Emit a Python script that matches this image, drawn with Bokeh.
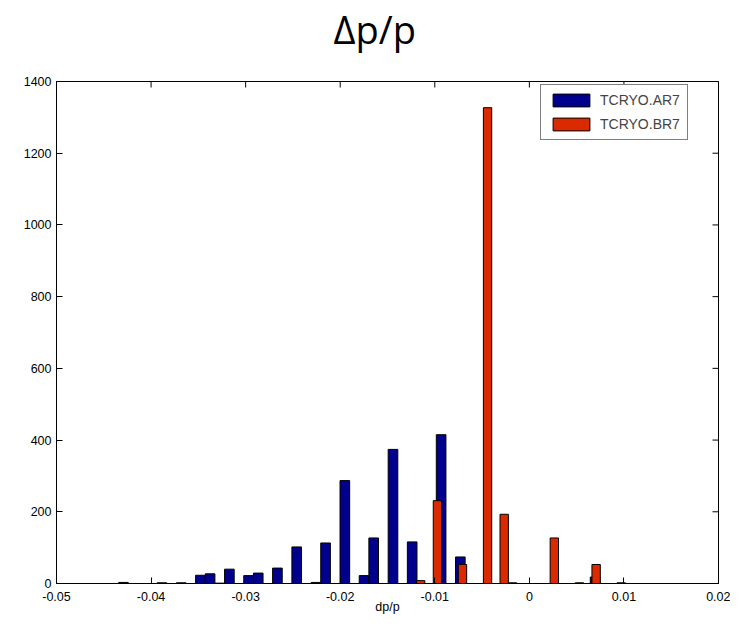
from bokeh.plotting import figure
from bokeh.models import (ColumnDataSource, FixedTicker, Range1d,
                          Legend, LegendItem, Title)
from bokeh.embed import file_html
from bokeh.resources import INLINE

# ---- data ----
ar7_centers = [-0.04292, -0.03885, -0.03681, -0.03478, -0.03376, -0.03274,
               -0.03172, -0.02969, -0.02867, -0.02664, -0.02460, -0.02256,
               -0.02155, -0.01951, -0.01748, -0.01646, -0.01442, -0.01239,
               -0.00933, -0.00730, 0.00695]
ar7_counts = [3, 2, 2, 23, 27, 1, 40, 22, 29, 43, 102, 3, 113, 287, 22, 127,
              374, 116, 415, 74, 18]

br7_centers = [-0.01149, -0.00972, -0.00707, -0.00442, -0.00266, -0.00177,
               0.00264, 0.00529, 0.00706, 0.00971]
br7_counts = [8, 231, 53, 1327, 193, 2, 127, 2, 53, 2]

x_ticks = [-0.05, -0.04, -0.03, -0.02, -0.01, 0.0, 0.01, 0.02]
x_tick_labels = ["-0.05", "-0.04", "-0.03", "-0.02", "-0.01", "0", "0.01", "0.02"]
y_ticks = [0, 200, 400, 600, 800, 1000, 1200, 1400]

series_names = ["TCRYO.AR7", "TCRYO.BR7"]
title_text = "\u0394p/p"
x_label = "dp/p"

X_MIN, X_MAX = x_ticks[0], x_ticks[-1]
Y_MIN, Y_MAX = y_ticks[0], y_ticks[-1]

AR7_WIDTH = 0.0010178
BR7_WIDTH = 0.000883
BLUE = "#00008C"
RED = "#DC2A00"
TICK_FONT = "Liberation Sans"

p = figure(width=730, height=616,
           x_range=Range1d(X_MIN, X_MAX), y_range=Range1d(Y_MIN, Y_MAX),
           output_backend="svg", toolbar_location=None,
           min_border_left=56, min_border_right=12,
           min_border_top=81, min_border_bottom=33)

# spacer panel between the frame and the title (added first = nearest frame)
spacer = Title(text=" ", text_font=TICK_FONT, text_font_size="1px",
               standoff=24)
p.add_layout(spacer, "above")

main_title = Title(text=title_text, align="left", offset=277,
                   vertical_align="bottom", standoff=0,
                   text_font="Open Sans", text_font_size="38px",
                   text_font_style="normal", text_color="black")
p.add_layout(main_title, "above")

p.xgrid.visible = False
p.ygrid.visible = False
p.outline_line_color = "black"
p.outline_line_width = 1
p.background_fill_color = "white"
p.border_fill_color = "white"

src_a = ColumnDataSource(dict(x=ar7_centers, top=ar7_counts))
src_b = ColumnDataSource(dict(x=br7_centers, top=br7_counts))

r_a = p.vbar(x="x", top="top", bottom=0, width=AR7_WIDTH, source=src_a,
             fill_color=BLUE, line_color="black", line_width=1)
r_b = p.vbar(x="x", top="top", bottom=0, width=BR7_WIDTH, source=src_b,
             fill_color=RED, line_color="black", line_width=1)

# mirrored inward ticks on the top and right edges of the box
p.scatter(x=x_ticks, y=[Y_MAX] * len(x_ticks), marker="dash", size=12,
          angle=1.5707963, line_color="black", line_width=1)
p.scatter(x=[X_MAX] * len(y_ticks), y=y_ticks, marker="dash", size=12,
          line_color="black", line_width=1)


def style_axis(ax, ticks, labels):
    ax.ticker = FixedTicker(ticks=ticks)
    ax.axis_line_color = "black"
    ax.axis_line_width = 1
    ax.major_tick_line_color = "black"
    ax.major_tick_in = 6
    ax.major_tick_out = 0
    ax.minor_tick_line_color = None
    ax.major_label_overrides = {t: l for t, l in zip(ticks, labels)}
    ax.major_label_text_font = TICK_FONT
    ax.major_label_text_font_size = "12.5px"
    ax.major_label_text_color = "black"


style_axis(p.xaxis[0], x_ticks, x_tick_labels)
p.xaxis[0].major_label_standoff = 8
p.xaxis[0].axis_label = x_label
p.xaxis[0].axis_label_text_font = TICK_FONT
p.xaxis[0].axis_label_text_font_size = "12.5px"
p.xaxis[0].axis_label_text_font_style = "normal"
p.xaxis[0].axis_label_text_color = "black"
p.xaxis[0].axis_label_standoff = -4

style_axis(p.yaxis[0], y_ticks, [str(v) for v in y_ticks])
p.yaxis[0].major_label_standoff = 5

legend = Legend(items=[LegendItem(label=series_names[0], renderers=[r_a]),
                       LegendItem(label=series_names[1], renderers=[r_b])],
                location=(484, 443))
legend.glyph_width = 46
legend.glyph_height = 16
legend.label_height = 16
legend.spacing = 8
legend.padding = 7
legend.margin = 0
legend.label_standoff = 6
legend.label_text_font = TICK_FONT
legend.label_text_font_size = "14px"
legend.border_line_color = "black"
legend.border_line_width = 1
legend.background_fill_alpha = 1
p.add_layout(legend)

open("out.html", "w").write(file_html(p, INLINE))
